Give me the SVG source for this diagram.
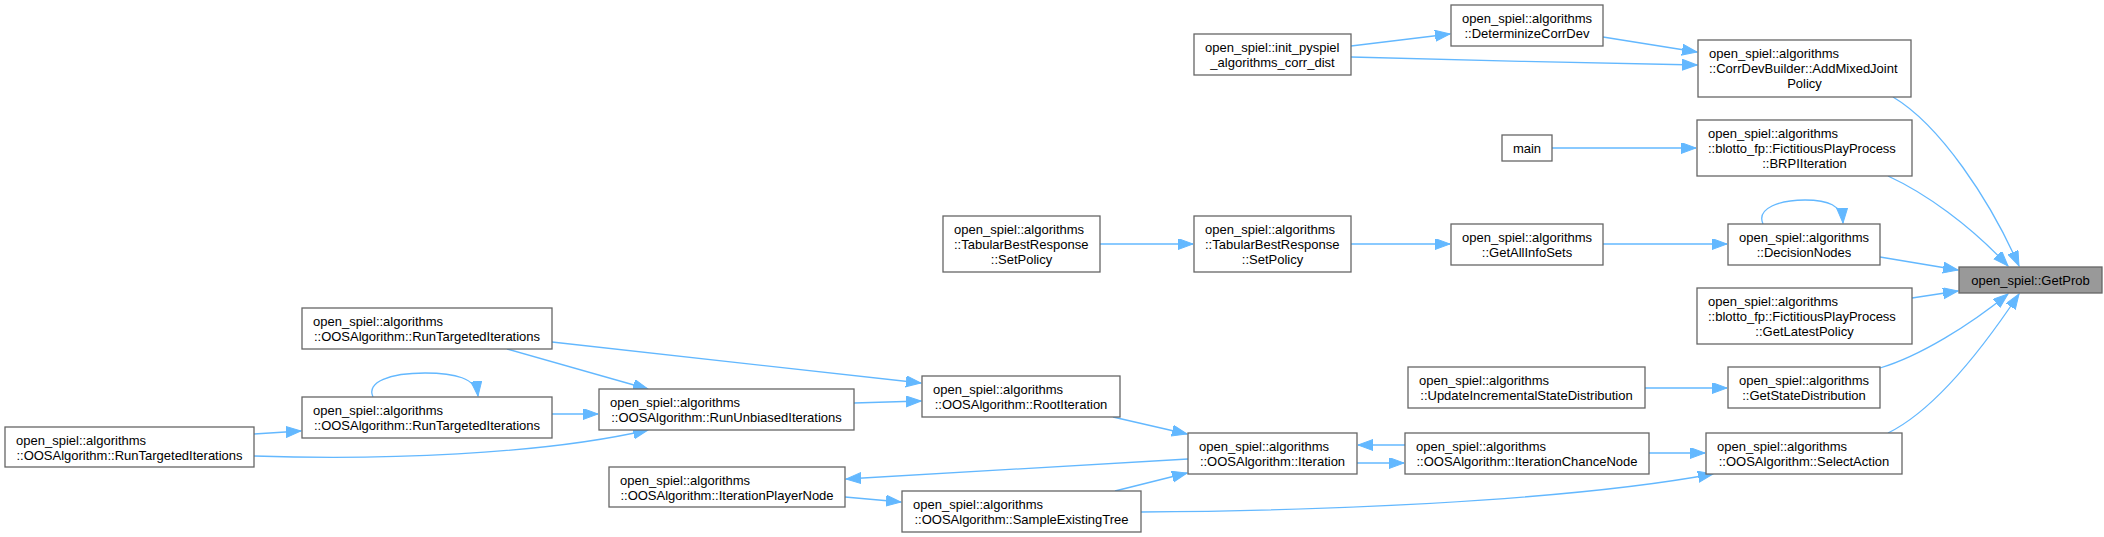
<svg xmlns="http://www.w3.org/2000/svg" width="2104" height="537" viewBox="0 0 2104 537">
<style>
.n rect{fill:#ffffff;stroke:#666666;stroke-width:1.3}
.n.hl rect{fill:#999999}
.n text{font-family:"Liberation Sans",Arial,sans-serif;font-size:13px;fill:#000000}
.n text.c{text-anchor:middle}
#edges path{fill:none;stroke:#63b8ff;stroke-width:1.3;marker-end:url(#ah)}
</style>
<defs>
<marker id="ah" markerUnits="userSpaceOnUse" markerWidth="16" markerHeight="12" refX="15" refY="5.5" orient="auto">
<path d="M0,0 L15,5.5 L0,11 z" fill="#63b8ff" stroke="#63b8ff" stroke-width="1"/>
</marker>
</defs>
<rect x="0" y="0" width="2104" height="537" fill="#ffffff"/>
<g id="edges">
<path d="M1351,46 L1450,34"/>
<path d="M1351,57 C1450,60 1600,63 1697,65"/>
<path d="M1603,37 L1697,52"/>
<path d="M1552,148 L1696,148"/>
<path d="M1893,97 C1940,125 1990,200 2019,266"/>
<path d="M1888,176 C1925,193 1970,225 2008,266"/>
<path d="M1100,244 L1193,244"/>
<path d="M1351,244 L1450,244"/>
<path d="M1603,244 L1727,244"/>
<path d="M1763,224 C1756,208 1780,200 1805,200 C1828,200 1842,205 1843,223"/>
<path d="M1880,257 L1958,270"/>
<path d="M1912,298 L1958,291"/>
<path d="M1645,388 L1727,388"/>
<path d="M1880,368 C1920,356 1970,325 2008,294"/>
<path d="M1888,433 C1935,410 1985,345 2019,294"/>
<path d="M1649,453 L1705,453"/>
<path d="M1141,512 C1400,510 1600,495 1713,474"/>
<path d="M552,342 L921,383"/>
<path d="M507,349 L648,389"/>
<path d="M373,397 C366,382 390,373 425,373 C455,373 476,378 478,396"/>
<path d="M552,414 L598,414"/>
<path d="M254,434 L301,431"/>
<path d="M254,456 C380,460 540,455 648,430"/>
<path d="M854,403 L921,401"/>
<path d="M1113,417 L1187,434"/>
<path d="M1357,463 L1404,463"/>
<path d="M1405,445 L1358,445"/>
<path d="M1188,459 L846,479"/>
<path d="M845,497 L901,502"/>
<path d="M1115,491 L1187,473"/>
</g>
<g id="n_init_pyspiel" class="n"><rect x="1194" y="34" width="157" height="41"/><text x="1205" y="52">open_spiel::init_pyspiel</text><text class="c" x="1272.5" y="67">_algorithms_corr_dist</text></g>
<g id="n_determinize" class="n"><rect x="1451" y="5" width="152" height="41"/><text x="1462" y="23">open_spiel::algorithms</text><text class="c" x="1527" y="38">::DeterminizeCorrDev</text></g>
<g id="n_addmixed" class="n"><rect x="1698" y="40" width="213" height="57"/><text x="1709" y="58">open_spiel::algorithms</text><text x="1709" y="73">::CorrDevBuilder::AddMixedJoint</text><text class="c" x="1804.5" y="88">Policy</text></g>
<g id="n_main" class="n"><rect x="1502" y="135" width="50" height="26"/><text class="c" x="1527" y="153">main</text></g>
<g id="n_brpi" class="n"><rect x="1697" y="120" width="215" height="56"/><text x="1708" y="138">open_spiel::algorithms</text><text x="1708" y="153">::blotto_fp::FictitiousPlayProcess</text><text class="c" x="1804.5" y="168">::BRPIIteration</text></g>
<g id="n_tbr_left" class="n"><rect x="943" y="216" width="157" height="56"/><text x="954" y="234">open_spiel::algorithms</text><text x="954" y="249">::TabularBestResponse</text><text class="c" x="1021.5" y="264">::SetPolicy</text></g>
<g id="n_tbr_right" class="n"><rect x="1194" y="216" width="157" height="56"/><text x="1205" y="234">open_spiel::algorithms</text><text x="1205" y="249">::TabularBestResponse</text><text class="c" x="1272.5" y="264">::SetPolicy</text></g>
<g id="n_getallinfosets" class="n"><rect x="1451" y="224" width="152" height="41"/><text x="1462" y="242">open_spiel::algorithms</text><text class="c" x="1527" y="257">::GetAllInfoSets</text></g>
<g id="n_decisionnodes" class="n"><rect x="1728" y="224" width="152" height="41"/><text x="1739" y="242">open_spiel::algorithms</text><text class="c" x="1804" y="257">::DecisionNodes</text></g>
<g id="n_getprob" class="n hl"><rect x="1959" y="267" width="143" height="26"/><text class="c" x="2030.5" y="285">open_spiel::GetProb</text></g>
<g id="n_getlatestpolicy" class="n"><rect x="1697" y="288" width="215" height="56"/><text x="1708" y="306">open_spiel::algorithms</text><text x="1708" y="321">::blotto_fp::FictitiousPlayProcess</text><text class="c" x="1804.5" y="336">::GetLatestPolicy</text></g>
<g id="n_updateincremental" class="n"><rect x="1408" y="367" width="237" height="41"/><text x="1419" y="385">open_spiel::algorithms</text><text class="c" x="1526.5" y="400">::UpdateIncrementalStateDistribution</text></g>
<g id="n_getstatedist" class="n"><rect x="1728" y="367" width="152" height="41"/><text x="1739" y="385">open_spiel::algorithms</text><text class="c" x="1804" y="400">::GetStateDistribution</text></g>
<g id="n_rt_top" class="n"><rect x="302" y="308" width="250" height="41"/><text x="313" y="326">open_spiel::algorithms</text><text class="c" x="427" y="341">::OOSAlgorithm::RunTargetedIterations</text></g>
<g id="n_rt_mid" class="n"><rect x="302" y="397" width="250" height="41"/><text x="313" y="415">open_spiel::algorithms</text><text class="c" x="427" y="430">::OOSAlgorithm::RunTargetedIterations</text></g>
<g id="n_rt_left" class="n"><rect x="5" y="427" width="249" height="40"/><text x="16" y="445">open_spiel::algorithms</text><text class="c" x="129.5" y="460">::OOSAlgorithm::RunTargetedIterations</text></g>
<g id="n_rununbiased" class="n"><rect x="599" y="389" width="255" height="41"/><text x="610" y="407">open_spiel::algorithms</text><text class="c" x="726.5" y="422">::OOSAlgorithm::RunUnbiasedIterations</text></g>
<g id="n_rootiteration" class="n"><rect x="922" y="376" width="198" height="41"/><text x="933" y="394">open_spiel::algorithms</text><text class="c" x="1021" y="409">::OOSAlgorithm::RootIteration</text></g>
<g id="n_iteration" class="n"><rect x="1188" y="433" width="169" height="41"/><text x="1199" y="451">open_spiel::algorithms</text><text class="c" x="1272.5" y="466">::OOSAlgorithm::Iteration</text></g>
<g id="n_iterationchancenode" class="n"><rect x="1405" y="433" width="244" height="41"/><text x="1416" y="451">open_spiel::algorithms</text><text class="c" x="1527" y="466">::OOSAlgorithm::IterationChanceNode</text></g>
<g id="n_selectaction" class="n"><rect x="1706" y="433" width="196" height="41"/><text x="1717" y="451">open_spiel::algorithms</text><text class="c" x="1804" y="466">::OOSAlgorithm::SelectAction</text></g>
<g id="n_iterationplayernode" class="n"><rect x="609" y="467" width="236" height="40"/><text x="620" y="485">open_spiel::algorithms</text><text class="c" x="727" y="500">::OOSAlgorithm::IterationPlayerNode</text></g>
<g id="n_sampleexistingtree" class="n"><rect x="902" y="491" width="239" height="41"/><text x="913" y="509">open_spiel::algorithms</text><text class="c" x="1021.5" y="524">::OOSAlgorithm::SampleExistingTree</text></g>
</svg>
